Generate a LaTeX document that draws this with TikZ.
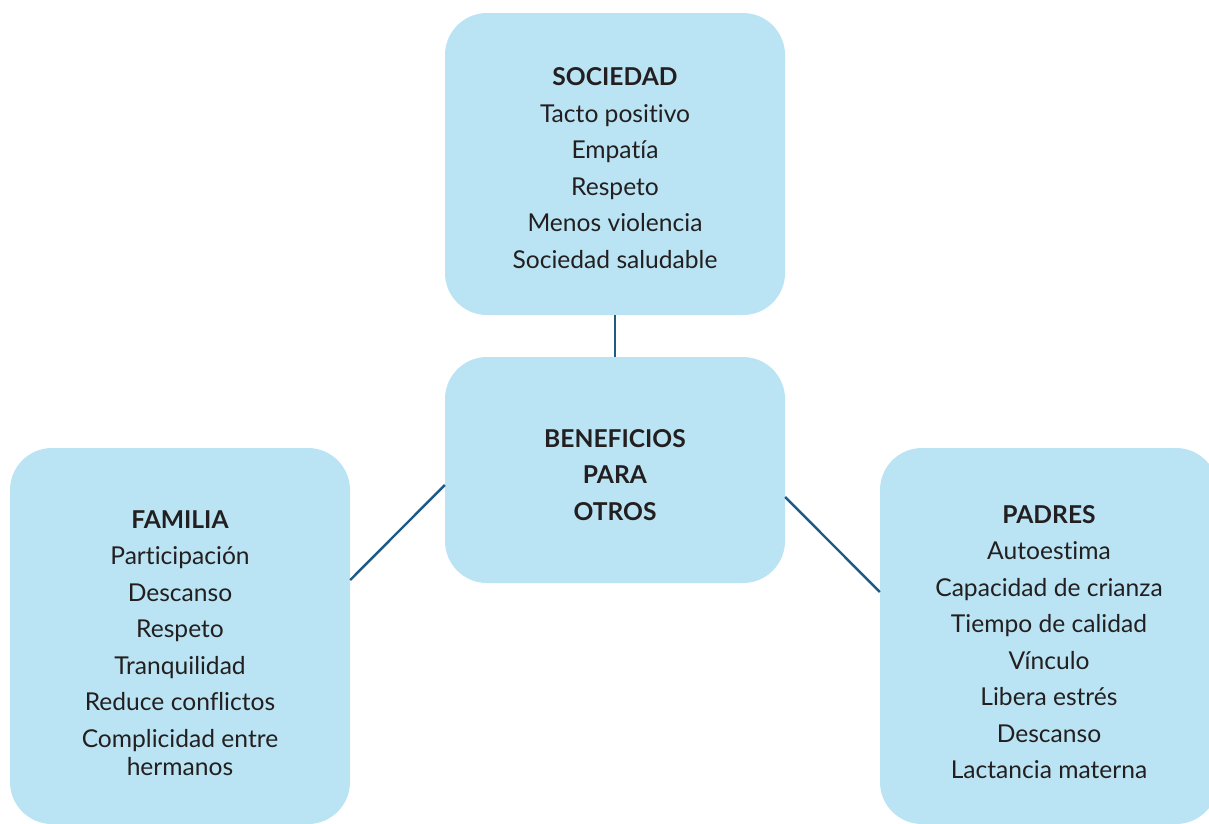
\documentclass[tikz,border=0pt]{standalone}
\usepackage{fontspec}
\setmainfont[Ligatures=NoCommon]{Lato}
\definecolor{boxfill}{HTML}{BAE4F3}
\definecolor{linecol}{HTML}{1D5A85}
\definecolor{txt}{HTML}{231F20}
\begin{document}
\begin{tikzpicture}[x=1pt,y=-1pt,
  box/.style={draw=none,fill=boxfill,rounded corners=42pt,inner sep=0pt},
  lbl/.style={align=center,text=txt,inner sep=0pt,font=\fontsize{24.6}{36.5}\selectfont},
  conn/.style={draw=linecol,line width=2.4pt}]
\useasboundingbox (0,0) rectangle (1209,823);
\clip (0,0) rectangle (1209,823);
\node[box,minimum width=340pt,minimum height=302pt] (soc) at (615,164) {};
\node[box,minimum width=340pt,minimum height=226pt] (ben) at (615,470) {};
\node[box,minimum width=340pt,minimum height=376pt] (fam) at (180,636) {};
\node[box,minimum width=338pt,minimum height=376pt] (pad) at (1049,636) {};
\node[lbl] (socT) at (615,168)
  {\textbf{SOCIEDAD}\\Tacto positivo\\Empatía\\Respeto\\Menos violencia\\Sociedad saludable};
\node[lbl] (benT) at (615,475)
  {\textbf{BENEFICIOS}\\\textbf{PARA}\\\textbf{OTROS}};
\node[lbl] (famT) at (180,643)
  {\textbf{FAMILIA}\\Participación\\Descanso\\Respeto\\Tranquilidad\\Reduce conflictos\\Complicidad entre\\[-8.5pt]hermanos};
\node[lbl] (padT) at (1049,642)
  {\textbf{PADRES}\\Autoestima\\Capacidad de crianza\\Tiempo de calidad\\Vínculo\\Libera estrés\\Descanso\\Lactancia materna};
\draw[conn] (soc.south) -- (ben.north);
\draw[conn] (ben.west |- 0,485) -- (fam.east |- 0,580);
\draw[conn] (ben.east |- 0,497) -- (pad.west |- 0,592);
\end{tikzpicture}
\end{document}
